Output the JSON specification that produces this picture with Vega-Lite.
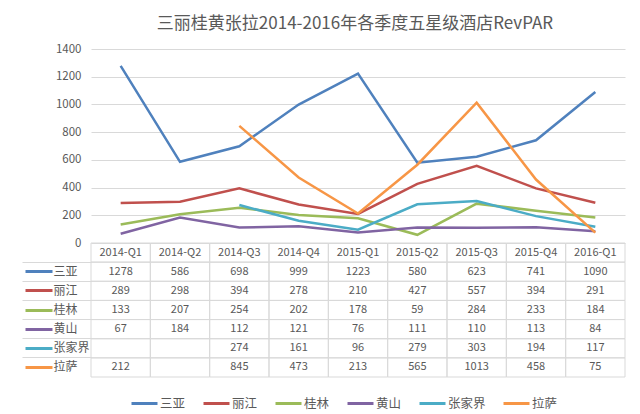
{
  "$schema": "https://vega.github.io/schema/vega-lite/v6.json",
  "width": 534,
  "height": 328,
  "autosize": {"type": "none"},
  "padding": {"left": 91, "top": 49, "right": 15, "bottom": 37},
  "background": "white",
  "title": {
    "text": "三丽桂黄张拉2014-2016年各季度五星级酒店RevPAR",
    "fontSize": 17,
    "fontWeight": "normal",
    "color": "#595959",
    "font": "Noto Sans CJK SC",
    "anchor": "middle",
    "offset": 10,
    "dx": -3
  },
  "config": {
    "view": {"stroke": null},
    "font": "Noto Sans CJK SC",
    "axis": {"labelFont": "Noto Sans CJK SC"},
    "legend": {"labelFont": "Noto Sans CJK SC"}
  },
  "data": {
    "values": [
      {"city": "三亚", "quarter": "2014-Q1", "value": 1278},
      {"city": "三亚", "quarter": "2014-Q2", "value": 586},
      {"city": "三亚", "quarter": "2014-Q3", "value": 698},
      {"city": "三亚", "quarter": "2014-Q4", "value": 999},
      {"city": "三亚", "quarter": "2015-Q1", "value": 1223},
      {"city": "三亚", "quarter": "2015-Q2", "value": 580},
      {"city": "三亚", "quarter": "2015-Q3", "value": 623},
      {"city": "三亚", "quarter": "2015-Q4", "value": 741},
      {"city": "三亚", "quarter": "2016-Q1", "value": 1090},
      {"city": "丽江", "quarter": "2014-Q1", "value": 289},
      {"city": "丽江", "quarter": "2014-Q2", "value": 298},
      {"city": "丽江", "quarter": "2014-Q3", "value": 394},
      {"city": "丽江", "quarter": "2014-Q4", "value": 278},
      {"city": "丽江", "quarter": "2015-Q1", "value": 210},
      {"city": "丽江", "quarter": "2015-Q2", "value": 427},
      {"city": "丽江", "quarter": "2015-Q3", "value": 557},
      {"city": "丽江", "quarter": "2015-Q4", "value": 394},
      {"city": "丽江", "quarter": "2016-Q1", "value": 291},
      {"city": "桂林", "quarter": "2014-Q1", "value": 133},
      {"city": "桂林", "quarter": "2014-Q2", "value": 207},
      {"city": "桂林", "quarter": "2014-Q3", "value": 254},
      {"city": "桂林", "quarter": "2014-Q4", "value": 202},
      {"city": "桂林", "quarter": "2015-Q1", "value": 178},
      {"city": "桂林", "quarter": "2015-Q2", "value": 59},
      {"city": "桂林", "quarter": "2015-Q3", "value": 284},
      {"city": "桂林", "quarter": "2015-Q4", "value": 233},
      {"city": "桂林", "quarter": "2016-Q1", "value": 184},
      {"city": "黄山", "quarter": "2014-Q1", "value": 67},
      {"city": "黄山", "quarter": "2014-Q2", "value": 184},
      {"city": "黄山", "quarter": "2014-Q3", "value": 112},
      {"city": "黄山", "quarter": "2014-Q4", "value": 121},
      {"city": "黄山", "quarter": "2015-Q1", "value": 76},
      {"city": "黄山", "quarter": "2015-Q2", "value": 111},
      {"city": "黄山", "quarter": "2015-Q3", "value": 110},
      {"city": "黄山", "quarter": "2015-Q4", "value": 113},
      {"city": "黄山", "quarter": "2016-Q1", "value": 84},
      {"city": "张家界", "quarter": "2014-Q1", "value": null},
      {"city": "张家界", "quarter": "2014-Q2", "value": null},
      {"city": "张家界", "quarter": "2014-Q3", "value": 274},
      {"city": "张家界", "quarter": "2014-Q4", "value": 161},
      {"city": "张家界", "quarter": "2015-Q1", "value": 96},
      {"city": "张家界", "quarter": "2015-Q2", "value": 279},
      {"city": "张家界", "quarter": "2015-Q3", "value": 303},
      {"city": "张家界", "quarter": "2015-Q4", "value": 194},
      {"city": "张家界", "quarter": "2016-Q1", "value": 117},
      {"city": "拉萨", "quarter": "2014-Q1", "value": 212},
      {"city": "拉萨", "quarter": "2014-Q2", "value": null},
      {"city": "拉萨", "quarter": "2014-Q3", "value": 845},
      {"city": "拉萨", "quarter": "2014-Q4", "value": 473},
      {"city": "拉萨", "quarter": "2015-Q1", "value": 213},
      {"city": "拉萨", "quarter": "2015-Q2", "value": 565},
      {"city": "拉萨", "quarter": "2015-Q3", "value": 1013},
      {"city": "拉萨", "quarter": "2015-Q4", "value": 458},
      {"city": "拉萨", "quarter": "2016-Q1", "value": 75}
    ]
  },
  "layer": [
    {
      "mark": {"type": "line", "strokeWidth": 2.5, "invalid": "break-paths-filter-domains"},
      "encoding": {
        "x": {
          "field": "quarter",
          "type": "ordinal",
          "bandPosition": 0.5,
          "scale": {
            "type": "band",
            "paddingInner": 0,
            "paddingOuter": 0,
            "domain": ["2014-Q1", "2014-Q2", "2014-Q3", "2014-Q4", "2015-Q1", "2015-Q2", "2015-Q3", "2015-Q4", "2016-Q1"]
          },
          "axis": null
        },
        "y": {
          "field": "value",
          "type": "quantitative",
          "scale": {"domain": [-967, 1400], "nice": false, "zero": false},
          "axis": {
            "orient": "left",
            "values": [0, 200, 400, 600, 800, 1000, 1200, 1400],
            "format": "d",
            "grid": true,
            "gridColor": "#d9d9d9",
            "gridWidth": 1,
            "domain": false,
            "ticks": false,
            "labelPadding": 10,
            "labelFontSize": 11.5,
            "labelColor": "#595959",
            "title": null
          }
        },
        "color": {
          "field": "city",
          "type": "nominal",
          "scale": {
            "domain": ["三亚", "丽江", "桂林", "黄山", "张家界", "拉萨"],
            "range": ["#4F81BD", "#C0504D", "#9BBB59", "#8064A2", "#4BACC6", "#F79646"]
          },
          "legend": {
            "orient": "none",
            "legendX": 39,
            "legendY": 340,
            "direction": "horizontal",
            "symbolType": "stroke",
            "symbolSize": 676,
            "symbolStrokeWidth": 3,
            "labelFontSize": 12.5,
            "labelColor": "#595959",
            "labelOffset": 1,
            "columnPadding": 11,
            "padding": 0,
            "title": null
          }
        }
      }
    },
    {
      "layer": [
        {
          "mark": {"type": "rect", "fill": "transparent", "stroke": "#d9d9d9", "strokeWidth": 1},
          "encoding": {
            "x": {"field": "quarter", "type": "ordinal", "axis": null},
            "y": {
              "field": "city",
              "type": "nominal",
              "scale": {
                "type": "band",
                "domain": [" ", "三亚", "丽江", "桂林", "黄山", "张家界", "拉萨"],
                "paddingInner": 0,
                "paddingOuter": 0,
                "range": [194, 328]
              },
              "axis": {
                "orient": "left",
                "bandPosition": 0,
                "domain": false,
                "grid": false,
                "ticks": true,
                "tickSize": 69,
                "tickWidth": 1,
                "tickColor": {"condition": {"test": "datum.value === ' '", "value": "transparent"}, "value": "#d9d9d9"},
                "labelAlign": "left",
                "labelPadding": -31,
                "labelFontSize": 12,
                "labelColor": "#595959",
                "labelOverlap": false,
                "title": null
              }
            }
          }
        },
        {
          "transform": [{"filter": "datum.city === '三亚'"}],
          "mark": {"type": "rect", "fill": "transparent", "stroke": "#d9d9d9", "strokeWidth": 1},
          "encoding": {
            "x": {"field": "quarter", "type": "ordinal", "axis": null},
            "y": {"datum": " "}
          }
        },
        {
          "transform": [{"filter": "datum.city === '三亚'"}],
          "mark": {"type": "text", "fontSize": 11, "color": "#595959", "baseline": "middle"},
          "encoding": {
            "x": {"field": "quarter", "type": "ordinal", "bandPosition": 0.5, "axis": null},
            "y": {"datum": " "},
            "text": {"field": "quarter", "type": "nominal"}
          }
        }
      ]
    },
    {
      "transform": [{"filter": "isValid(datum.value)"}],
      "mark": {"type": "text", "fontSize": 11, "color": "#595959", "baseline": "middle"},
      "encoding": {
        "x": {"field": "quarter", "type": "ordinal", "bandPosition": 0.5, "axis": null},
        "y": {
          "field": "city",
          "type": "nominal",
          "scale": {
            "type": "band",
            "domain": [" ", "三亚", "丽江", "桂林", "黄山", "张家界", "拉萨"],
            "paddingInner": 0,
            "paddingOuter": 0,
            "range": [194, 328]
          },
          "axis": {
            "orient": "left",
            "offset": 39,
            "domain": false,
            "grid": false,
            "labels": false,
            "ticks": true,
            "tickSize": 27,
            "tickWidth": 3,
            "tickColor": {
              "condition": [
                {"test": "datum.value === '三亚'", "value": "#4F81BD"},
                {"test": "datum.value === '丽江'", "value": "#C0504D"},
                {"test": "datum.value === '桂林'", "value": "#9BBB59"},
                {"test": "datum.value === '黄山'", "value": "#8064A2"},
                {"test": "datum.value === '张家界'", "value": "#4BACC6"},
                {"test": "datum.value === '拉萨'", "value": "#F79646"}
              ],
              "value": "transparent"
            },
            "title": null
          }
        },
        "text": {"field": "value", "type": "quantitative"}
      }
    }
  ],
  "resolve": {"scale": {"y": "independent"}}
}
